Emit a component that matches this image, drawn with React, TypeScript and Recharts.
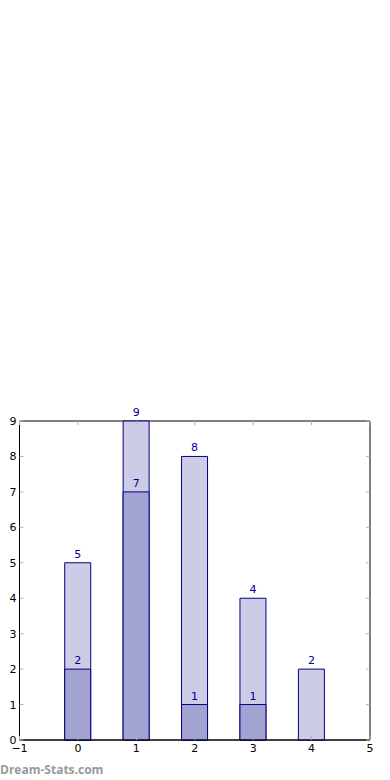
import {
  ComposedChart,
  Bar,
  XAxis,
  YAxis,
  LabelList,
  ReferenceArea,
} from "recharts";

const positions = [0, 1, 2, 3, 4];
const totals = [5, 9, 8, 4, 2];
const overlaps: (number | null)[] = [2, 7, 1, 1, null];
const xTicks = [-1, 0, 1, 2, 3, 4, 5];
const yTicks = [0, 1, 2, 3, 4, 5, 6, 7, 8, 9];

const data = positions.map((x, i) => ({
  x,
  total: totals[i],
  overlap: overlaps[i],
}));

const navy = "#000080";
const font = "DejaVu Sans";
const TOP = 421;
const BOTTOM = 740;
const LEFT = 19.5;
const RIGHT = 370;
const TICK = 4;
const tickGray = "#b0b0b0";

const fmt = (v: number) => String(v).replace("-", "\u2212");

function XTick(props: any) {
  const cx = props.payload.coordinate;
  return (
    <g>
      <line x1={cx} x2={cx} y1={BOTTOM} y2={BOTTOM - TICK} stroke={tickGray} />
      <line x1={cx} x2={cx} y1={TOP} y2={TOP + TICK} stroke={tickGray} />
      <text x={cx} y={BOTTOM + 12} textAnchor="middle" fontSize={11} fontFamily={font} fill="#000">
        {fmt(props.payload.value)}
      </text>
    </g>
  );
}

function YTick(props: any) {
  const cy = props.payload.coordinate;
  return (
    <g>
      <line x1={LEFT} x2={LEFT + TICK} y1={cy} y2={cy} stroke={tickGray} />
      <line x1={RIGHT} x2={RIGHT - TICK} y1={cy} y2={cy} stroke={tickGray} />
      <text x={16.5} y={cy + 4} textAnchor="end" fontSize={11} fontFamily={font} fill="#000">
        {fmt(props.payload.value)}
      </text>
    </g>
  );
}

export default function App() {
  return (
    <div style={{ position: "absolute", left: 0, top: 0, width: 390, height: 780 }}>
      <ComposedChart
        width={390}
        height={780}
        data={data}
        margin={{ top: TOP, right: 390 - RIGHT, bottom: 0, left: 0 }}
      >
        <XAxis
          xAxisId="main"
          dataKey="x"
          type="number"
          domain={[-1, 5]}
          ticks={xTicks}
          height={780 - BOTTOM}
          axisLine={{ stroke: "#000" }}
          tickLine={false}
          tickSize={0}
          tick={<XTick />}
        />
        <XAxis xAxisId="inner" dataKey="x" type="number" domain={[-1, 5]} height={0} hide />
        <YAxis
          domain={[0, 9]}
          ticks={yTicks}
          width={LEFT}
          axisLine={{ stroke: "#000" }}
          tickLine={false}
          tickSize={0}
          tick={<YTick />}
        />
        <Bar
          xAxisId="main"
          dataKey="total"
          barSize={26}
          fill="#cccce6"
          stroke={navy}
          strokeWidth={1}
          isAnimationActive={false}
        >
          <LabelList
            dataKey="total"
            position="top"
            offset={5}
            fill="#00008b"
            fontSize={11}
            fontFamily={font}
          />
        </Bar>
        <Bar
          xAxisId="inner"
          dataKey="overlap"
          barSize={26}
          fill="#a3a3d1"
          stroke={navy}
          strokeWidth={1}
          isAnimationActive={false}
        >
          <LabelList
            dataKey="overlap"
            position="top"
            offset={5}
            fill="#00008b"
            fontSize={11}
            fontFamily={font}
            formatter={(v: any) => (v == null ? "" : v)}
          />
        </Bar>
        <ReferenceArea
          xAxisId="main"
          x1={-1}
          x2={5}
          y1={0}
          y2={9}
          fill="none"
          stroke="#000"
          strokeWidth={1}
          ifOverflow="visible"
        />
      </ComposedChart>
      <div
        style={{
          position: "absolute",
          left: 0,
          top: 762,
          fontFamily: "Open Sans",
          fontWeight: "bold",
          fontSize: 12,
          color: "#999",
          lineHeight: "16px",
        }}
      >
        Dream-Stats.com
      </div>
    </div>
  );
}
